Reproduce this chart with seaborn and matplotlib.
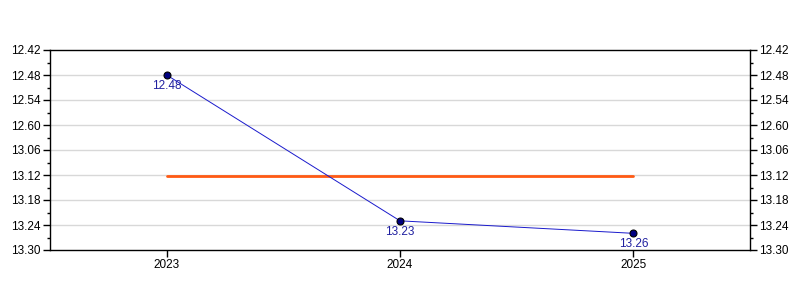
import matplotlib
matplotlib.use("Agg")
import matplotlib.pyplot as plt
import seaborn as sns
import pandas as pd
import numpy as np
from matplotlib.ticker import MultipleLocator

years = ["2023", "2024", "2025"]
times_label = ["12.48", "13.23", "13.26"]
times_sec = [12 * 60 + 48, 13 * 60 + 23, 13 * 60 + 26]
tick_labels = ["12.42", "12.48", "12.54", "12.60", "13.06", "13.12", "13.18", "13.24", "13.30"]
tick_secs = [762, 768, 774, 780, 786, 792, 798, 804, 810]

sns.set_theme(style="white")
plt.rcParams["font.family"] = ["Liberation Sans", "DejaVu Sans"]

df = pd.DataFrame({"pos": np.arange(len(years)), "year": years, "t": times_sec})
avg = float(np.mean(times_sec))
df_avg = pd.DataFrame({"pos": [0, len(years) - 1], "t": [avg, avg]})

fig = plt.figure(figsize=(8, 3), dpi=100)
ax = fig.add_axes([0.0625, 1 / 6, 0.875, 2 / 3])

for s in tick_secs[1:-1]:
    ax.axhline(s, color="#d8d8d8", lw=1, zorder=0)

sns.lineplot(data=df_avg, x="pos", y="t", ax=ax, color="#ff5a14", lw=2, zorder=2)
sns.lineplot(data=df, x="pos", y="t", ax=ax, color="#1a1acc", lw=0.7,
             marker="o", markersize=5, markerfacecolor="#000080",
             markeredgecolor="black", markeredgewidth=0.8, zorder=3)

for x, y, lab in zip(df["pos"], df["t"], times_label):
    ax.annotate(lab, (x, y), xytext=(0, -3.5), textcoords="offset points",
                ha="center", va="top", fontsize=8.5, color="#2020a0")

ax.set_xlim(-0.5, len(years) - 0.5)
ax.set_ylim(810, 762)
ax.set_xticks(df["pos"])
ax.set_xticklabels(years)
ax.set_yticks(tick_secs)
ax.set_yticklabels(tick_labels)
ax.yaxis.set_minor_locator(MultipleLocator(3))
ax.set_xlabel("")
ax.set_ylabel("")

for sp in ax.spines.values():
    sp.set_color("black")
    sp.set_linewidth(1)

ax.tick_params(axis="both", which="major", direction="out", length=5, width=1,
               color="black", labelsize=8.5, labelcolor="black", pad=1.5)
ax.tick_params(axis="y", which="minor", direction="out", length=2.5, width=1, color="black")
ax.tick_params(axis="y", which="both", left=True, right=True, labelright=True)
ax.tick_params(axis="x", bottom=True)

fig.savefig("out.png", dpi=100)
